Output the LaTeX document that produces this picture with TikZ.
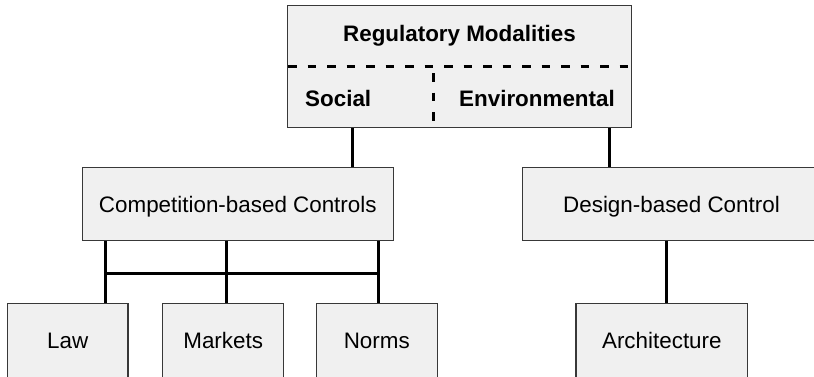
\documentclass[tikz,border=0pt]{standalone}
\usepackage{fontspec}
\setmainfont{Liberation Sans}
\definecolor{boxfill}{HTML}{F0F0F0}
\definecolor{boxborder}{HTML}{383838}
\begin{document}
\begin{tikzpicture}[x=1pt,y=-1pt,
  box/.style={draw=boxborder, fill=boxfill, line width=1.3pt, inner sep=0pt,
    font=\fontsize{22.4}{26}\selectfont},
  midbox/.style={box, text height=17pt, text depth=0pt, minimum height=73pt},
  lowbox/.style={box, text height=16pt, text depth=7.7pt, minimum height=81.7pt},
  lbl/.style={inner sep=0pt, anchor=base, font=\fontsize{22.4}{26}\selectfont\bfseries},
  link/.style={line width=3pt, black},
  sepline/.style={line width=3pt, black, dash pattern=on 8.5pt off 11pt}]
\useasboundingbox (0,0) rectangle (814,376);
% boxes
\node[box, minimum width=344.4pt, minimum height=122.4pt] (top) at (459.5,66.5) {};
\node[midbox, minimum width=311pt] (comp) at (237.8,203.8) {Competition-based Controls};
\node[midbox, minimum width=298.4pt] (design) at (671.5,203.8) {Design-based Control};
\node[lowbox, minimum width=120.7pt] (law) at (67.65,344.15) {Law};
\node[lowbox, minimum width=121pt] (markets) at (223.2,344.15) {Markets};
\node[lowbox, minimum width=121pt] (norms) at (376.8,344.15) {Norms};
\node[lowbox, minimum width=171.7pt] (arch) at (661.85,344.15) {Architecture};
% top box content
\node[lbl] (title) at (459.5,41.7) {Regulatory Modalities};
\node[lbl, anchor=base west] (social) at (305,106.7) {Social};
\node[lbl, anchor=base west] (env) at (459,106.7) {Environmental};
\coordinate (dl) at (288,66);
\coordinate (dr) at (630,66);
\coordinate (vt) at (433.7,73);
\coordinate (vb) at (433.7,123);
\draw[sepline] (dl) -- (dr);
\draw[sepline] (vt) -- (vb);
% connector x positions
\coordinate (xa) at (352,0);
\coordinate (xb) at (609,0);
\coordinate (x1) at (105.3,0);
\coordinate (x2) at (226.7,0);
\coordinate (x3) at (378,0);
\coordinate (x4) at (666,0);
\coordinate (bus) at (0,273.7);
\draw[link] (top.south -| xa) -- (comp.north -| xa);
\draw[link] (top.south -| xb) -- (design.north -| xb);
\draw[link] (comp.south -| x1) -- (law.north -| x1);
\draw[link] (comp.south -| x2) -- (markets.north -| x2);
\draw[link] (comp.south -| x3) -- (norms.north -| x3);
\draw[link] (bus -| x1) -- (bus -| x3);
\draw[link] (design.south -| x4) -- (arch.north -| x4);
\end{tikzpicture}
\end{document}
